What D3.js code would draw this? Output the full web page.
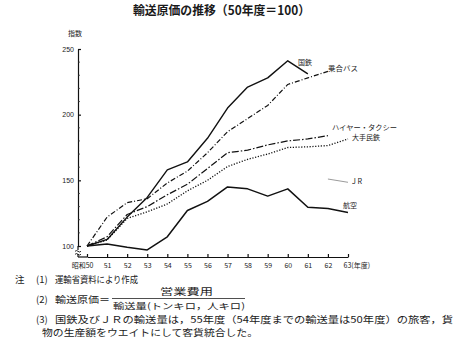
<!DOCTYPE html>
<html><head><meta charset="utf-8">
<script src="https://cdn.jsdelivr.net/npm/d3@7"></script>
<style>
body{margin:0;background:#fff;}
svg{display:block;}
text{font-family:"Noto Sans CJK JP","Noto Sans",sans-serif;fill:#1a1a1a;}
</style></head>
<body>
<svg id="c" width="462" height="350"></svg>
<script>
const years = [50,51,52,53,54,55,56,57,58,59,60,61,62,63];
const yearLabels = ["昭和50","51","52","53","54","55","56","57","58","59","60","61","62","63(年度)"];
const kokutetsu = [100,105,122,137,158,164,182,205,221,228,241,231];          // 50-61
const bus       = [100,122,133,136,148,157,171,187,197,207,223,228,233];      // 50-62
const taxi      = [100,107,124,130,139,147,159,171,173,177,180,181.5,184];    // 50-62
const mintetsu  = [100,104.5,121,126,132,142,150,160.5,166,170,175,175.5,176.5,181.5]; // 50-63
const jrYears   = [62,63];
const jr        = [151,148.5];
const air       = [100,101.5,99,97,107,127,134,145,143.5,138,143.5,129.5,128.5,125.5]; // 50-63
const yMajor = [100,150,200,250];
const yMinor = [110,120,130,140,160,170,180,190,210,220,230,240];

const svg = d3.select("#c");
const x = d3.scaleLinear().domain([50,63]).range([87,348]);
const y = d3.scaleLinear().domain([100,250]).range([246,49]);
const axisY = 257, axisX = 78;

// title
svg.append("text").attr("x",133).attr("y",15).attr("font-size",12.5).attr("font-weight","bold")
  .attr("textLength",177).attr("lengthAdjust","spacingAndGlyphs").text("輸送原価の推移（50年度＝100）");

// y axis
const gy = svg.append("g").attr("transform",`translate(${axisX},0)`)
  .call(d3.axisLeft(y).tickValues(yMajor).tickSizeInner(-3).tickSizeOuter(0).tickPadding(4).tickFormat(d3.format("d")));
gy.selectAll("text").attr("font-size",7).style("font-family","'Liberation Sans',sans-serif");
gy.selectAll("path,line").attr("stroke","#111").attr("stroke-width",1.2);
svg.append("g").selectAll("line").data(yMinor).join("line")
  .attr("x1",axisX).attr("x2",axisX+2).attr("y1",d=>y(d)).attr("y2",d=>y(d)).attr("stroke","#333").attr("stroke-width",0.8);
// axis extension with break
svg.append("line").attr("x1",axisX).attr("x2",axisX).attr("y1",y(100)).attr("y2",y(100)+4).attr("stroke","#111").attr("stroke-width",1.2);
svg.append("line").attr("x1",axisX).attr("x2",axisX).attr("y1",y(100)+8).attr("y2",axisY).attr("stroke","#111").attr("stroke-width",1.2);
[y(100)+4.5, y(100)+7.5].forEach(v=>{
  svg.append("path").attr("d",`M${axisX-3},${v+0.8} q1.5,-1.5 3,0 t3,0`).attr("fill","none").attr("stroke","#111").attr("stroke-width",0.9);
});
svg.append("text").attr("x",75).attr("y",36).attr("font-size",7).attr("text-anchor","middle").text("指数");

// x axis
const gx = svg.append("g").attr("transform",`translate(0,${axisY})`)
  .call(d3.axisBottom(x).tickValues(years).tickSizeInner(-3).tickSizeOuter(0).tickPadding(6)
    .tickFormat((d,i)=>yearLabels[i]));
gx.selectAll("path,line").attr("stroke","#111").attr("stroke-width",1.2);
gx.selectAll("text").attr("font-size",7).attr("fill","#222");
gx.selectAll(".tick").filter(d=>d===50).select("text").attr("text-anchor","end").attr("dx",6);
gx.selectAll(".tick").filter(d=>d===63).select("text").attr("text-anchor","start").attr("dx",-5);
svg.append("line").attr("x1",axisX).attr("x2",x(50)).attr("y1",axisY).attr("y2",axisY).attr("stroke","#111").attr("stroke-width",1.2);

// lines
const line = d3.line().x(d=>x(d[0])).y(d=>y(d[1]));
function draw(vals, yrs, dash, w, col){
  const pts = vals.map((v,i)=>[yrs[i],v]);
  svg.append("path").datum(pts).attr("d",line).attr("fill","none")
    .attr("stroke",col||"#111").attr("stroke-width",w).attr("stroke-dasharray",dash||null)
    .attr("stroke-linejoin","round");
}
draw(kokutetsu, years, null, 1.4);
draw(bus, years, "5,2,1,2", 1.2);
draw(taxi, years, "7,2,1.5,2", 1.2);
draw(mintetsu, years, "1.2,1.6", 1.3);
draw(jr, jrYears, null, 0.6, "#555");
draw(air, years, null, 1.5);

// series labels
const lab = (t,xx,yy,tl)=>svg.append("text").attr("x",xx).attr("y",yy).attr("font-size",7)
  .attr("textLength",tl).attr("lengthAdjust","spacingAndGlyphs").text(t);
lab("国鉄",298,65,14);
lab("乗合バス",328,71,30);
lab("ハイヤー・タクシー",332,130,65);
lab("大手民鉄",352,140,28);
lab("J R",352,184,10);
lab("航空",343,208,14);

// notes
const note = (t,xx,yy,tl,fs)=>{
  const s = svg.append("text").attr("x",xx).attr("y",yy).attr("font-size",fs||9.5).text(t);
  if(tl) s.attr("textLength",tl).attr("lengthAdjust","spacingAndGlyphs");
  return s;
};
note("注",15,283);
note("(1)",36,283);
note("運輸省資料により作成",55,283,83);
note("(2)",36,303);
note("輸送原価＝",55,303,55);
note("営業費用",160,294.5,53,9);
svg.append("line").attr("x1",112).attr("x2",245).attr("y1",298.5).attr("y2",298.5).attr("stroke","#222").attr("stroke-width",0.8);
note("輸送量(トンキロ，人キロ)",113,308.5,132,8.5);
note("(3)",36,322.5);
note("国鉄及びＪＲの輸送量は，55年度（54年度までの輸送量は50年度）の旅客，貨",55,322.5,398);
note("物の生産額をウエイトにして客貨統合した。",42,335.5,216);
</script>
</body></html>
